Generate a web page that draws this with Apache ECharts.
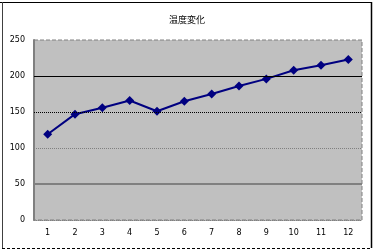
<!DOCTYPE html>
<html><head><meta charset="utf-8">
<script src="https://cdn.jsdelivr.net/npm/echarts@6/dist/echarts.min.js"></script>
<style>html,body{margin:0;padding:0;background:#fff}#c{width:374px;height:252px}</style>
</head><body><div id="c"></div>
<script>
var title = '温度変化';
var categories = ['1','2','3','4','5','6','7','8','9','10','11','12'];
var values = [119,147,156,166,151,165,175,186,196,208,215,223];
var yTicks = [0,50,100,150,200,250];

var chart = echarts.init(document.getElementById('c'), null, {renderer:'canvas'});
var lbl = {fontFamily:'DejaVu Sans', fontSize:8, color:'#000'};
chart.setOption({
  animation:false,
  backgroundColor:'#fff',
  title:{text:title, left:'center', top:10, textStyle:{fontFamily:'Noto Sans CJK JP', fontSize:9, fontWeight:'normal', color:'#000'}},
  grid:{left:34, right:12, top:40, bottom:32, show:true, backgroundColor:'#c0c0c0', borderColor:'#808080', borderWidth:1, borderType:'dashed'},
  xAxis:{type:'category', data:categories, boundaryGap:true,
    axisLine:{lineStyle:{color:'#808080', type:'dotted', width:1}},
    axisTick:{inside:true, length:3, lineStyle:{color:'#000'}},
    axisLabel:Object.assign({margin:9}, lbl),
    splitLine:{show:false}},
  yAxis:{type:'value', min:yTicks[0], max:yTicks[yTicks.length-1], interval:50,
    axisLine:{show:true, lineStyle:{color:'#808080', width:2}},
    axisTick:{show:false},
    axisLabel:Object.assign({margin:9}, lbl),
    splitLine:{show:false}},
  series:[{type:'line', data:values, symbol:'diamond', symbolSize:9,
    lineStyle:{color:'#000080', width:2}, itemStyle:{color:'#000080'},
    markLine:{silent:true, symbol:'none', label:{show:false}, animation:false,
      data:[
        {yAxis:200, lineStyle:{color:'#000', type:'solid', width:1}},
        {yAxis:150, lineStyle:{color:'#000', type:'dotted', width:1}},
        {yAxis:100, lineStyle:{color:'#808080', type:'dotted', width:1}},
        {yAxis:50, lineStyle:{color:'#808080', type:'solid', width:2}}
      ]}
  }],
  graphic:[
    {type:'line', shape:{x1:0, y1:2.5, x2:371.5, y2:2.5}, style:{stroke:'#000', lineWidth:1}},
    {type:'line', shape:{x1:2.5, y1:2, x2:2.5, y2:248}, style:{stroke:'#404040', lineWidth:1}},
    {type:'line', shape:{x1:371.5, y1:2, x2:371.5, y2:248}, style:{stroke:'#000', lineWidth:1.5}},
    {type:'line', shape:{x1:2, y1:248.5, x2:372, y2:248.5}, style:{stroke:'#000', lineWidth:1, lineDash:[3,2]}}
  ]
});
</script></body></html>
